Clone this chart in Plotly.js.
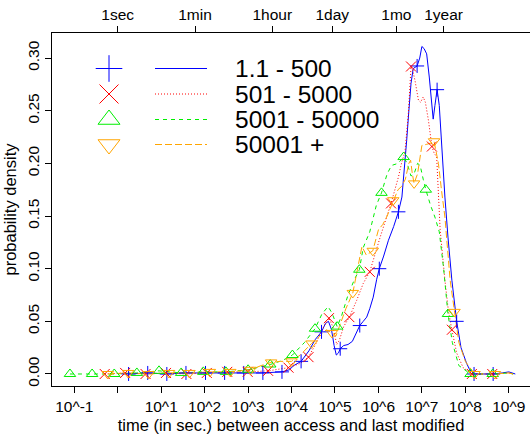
<!DOCTYPE html>
<html><head><meta charset="utf-8">
<script src="https://cdn.plot.ly/plotly-3.0.1.min.js"></script>
<style>html,body{margin:0;padding:0;background:#fff}</style>
</head><body>
<div id="chart" style="width:530px;height:440px"></div>
<script>
// ---- data (x given as log10 of seconds) ----
const seriesNames = ['1.1 - 500', '501 - 5000', '5001 - 50000', '50001 +'];

const blueLineLogX = [0.25,0.7,1.1,1.6,2.0,2.5,2.9,3.3,3.78,3.95,4.05,4.22,4.4,4.55,4.69,4.78,4.85,4.92,4.98,5.03,5.08,5.12,5.2,5.3,5.4,5.48,5.57,5.65,5.73,5.8,5.88,5.96,6.02,6.12,6.23,6.35,6.46,6.54,6.6,6.65,6.7,6.75,6.8,6.89,6.95,7.0,7.05,7.11,7.17,7.22,7.26,7.3,7.35,7.4,7.44,7.48,7.53,7.6,7.69,7.8,7.9,8.03,8.1,8.2,8.4,8.64,8.85,9.0,9.15];
const blueLineY    = [0,0.001,0,0.001,0.001,0.001,0.001,0.001,0.002,0.004,0.008,0.012,0.022,0.033,0.040,0.048,0.050,0.042,0.027,0.018,0.020,0.024,0.027,0.028,0.031,0.038,0.046,0.050,0.054,0.062,0.073,0.090,0.100,0.112,0.127,0.140,0.154,0.168,0.195,0.222,0.250,0.276,0.290,0.2925,0.300,0.311,0.309,0.304,0.282,0.255,0.242,0.255,0.270,0.255,0.225,0.195,0.168,0.130,0.089,0.050,0.025,0.010,0.004,0,0,0,0.001,0.002,0];
const blueMarkLogX = [0.25,0.69,1.13,1.57,2.02,2.46,2.90,3.34,3.78,4.22,4.69,5.12,5.57,6.02,6.46,6.89,7.35,7.80,8.20,8.64];
const blueMarkY    = [0,0.001,0,0.001,0.001,0.001,0.001,0.001,0.002,0.012,0.040,0.024,0.046,0.100,0.154,0.2925,0.270,0.050,0,0];

const redLineLogX = [-0.30,0.17,0.64,1.11,1.58,2.05,2.52,2.99,3.46,3.93,4.2,4.39,4.55,4.7,4.86,4.95,5.04,5.1,5.2,5.33,5.5,5.65,5.80,6.04,6.19,6.29,6.46,6.53,6.61,6.69,6.75,6.79,6.84,6.92,6.97,7.03,7.08,7.15,7.23,7.28,7.34,7.38,7.42,7.53,7.61,7.69,7.8,7.95,8.15,8.62,9.0,9.1];
const redLineY    = [0,0.001,0,0.001,0,0.001,0.002,0.002,0.003,0.006,0.010,0.016,0.028,0.042,0.053,0.045,0.028,0.032,0.045,0.054,0.070,0.086,0.097,0.130,0.149,0.162,0.187,0.200,0.211,0.248,0.292,0.288,0.279,0.260,0.258,0.263,0.258,0.241,0.216,0.210,0.206,0.170,0.137,0.089,0.060,0.042,0.020,0.006,0,0,0.001,0];
const redMarkLogX = [-0.30,0.17,0.64,1.11,1.58,2.05,2.52,2.99,3.46,3.93,4.39,4.86,5.33,5.80,6.29,6.75,7.23,7.69,8.15,8.62];
const redMarkY    = [0,0.001,0,0.001,0,0.001,0.002,0.002,0.003,0.006,0.016,0.053,0.054,0.097,0.162,0.292,0.216,0.042,0,0];

const greenLineLogX = [-1.10,-0.59,-0.08,0.44,0.95,1.46,1.97,2.49,3.00,3.51,3.8,4.02,4.3,4.54,4.7,4.84,4.93,5.05,5.15,5.3,5.45,5.56,5.65,5.8,5.95,6.07,6.2,6.3,6.45,6.58,6.66,6.75,6.82,6.9,6.96,7.03,7.09,7.2,7.3,7.4,7.5,7.60,7.7,7.85,8.12,8.63,9.0,9.1];
const greenLineY    = [0,0,0,0.001,0.003,0.001,0.002,0.002,0.004,0.009,0.013,0.018,0.030,0.043,0.057,0.064,0.058,0.045,0.055,0.075,0.090,0.099,0.120,0.135,0.160,0.172,0.190,0.198,0.200,0.206,0.200,0.188,0.190,0.200,0.198,0.185,0.175,0.160,0.149,0.135,0.100,0.057,0.030,0.008,0,0,0.001,0];
const greenMarkLogX = [-1.10,-0.59,-0.08,0.44,0.95,1.46,1.97,2.49,3.00,3.51,4.02,4.54,5.05,5.56,6.07,6.58,7.09,7.60,8.12,8.63];
const greenMarkY    = [0,0,0,0.001,0.003,0.001,0.002,0.002,0.004,0.009,0.018,0.043,0.045,0.099,0.172,0.206,0.175,0.057,0,0];

const orangeLineLogX = [-0.23,0.24,0.71,1.18,1.65,2.12,2.59,3.06,3.3,3.53,3.75,4.00,4.2,4.46,4.65,4.8,4.93,5.02,5.1,5.25,5.41,5.5,5.62,5.72,5.87,6.0,6.1,6.2,6.34,6.45,6.53,6.62,6.7,6.74,6.78,6.82,6.9,7.0,7.1,7.19,7.28,7.33,7.38,7.45,7.53,7.65,7.75,7.85,8.0,8.21,8.68,9.0,9.1];
const orangeLineY    = [0,0.001,0,0.001,0.001,0.002,0.002,0.004,0.008,0.011,0.012,0.012,0.018,0.029,0.036,0.042,0.039,0.036,0.045,0.062,0.077,0.095,0.121,0.113,0.117,0.137,0.142,0.150,0.165,0.175,0.178,0.185,0.200,0.203,0.190,0.181,0.190,0.217,0.218,0.219,0.221,0.210,0.200,0.175,0.149,0.089,0.059,0.030,0.012,0,0,0.001,0];
const orangeMarkLogX = [-0.23,0.24,0.71,1.18,1.65,2.12,2.59,3.06,3.53,4.00,4.46,4.93,5.41,5.87,6.34,6.82,7.28,7.75,8.21,8.68];
const orangeMarkY    = [0,0.001,0,0.001,0.001,0.002,0.002,0.004,0.011,0.012,0.029,0.039,0.077,0.117,0.165,0.181,0.221,0.059,0,0];

const bottomTickExp  = [-1,0,1,2,3,4,5,6,7,8,9];
const bottomTickText = ['10^-1','','10^1','10^2','10^3','10^4','10^5','10^6','10^7','10^8','10^9'];
const topTickSeconds = [1,60,3600,86400,2592000,31536000];
const topTickText    = ['1sec','1min','1hour','1day','1mo','1year'];
const yTickVals = [0,0.05,0.10,0.15,0.20,0.25,0.30];
const yTickText = ['0.00','0.05','0.10','0.15','0.20','0.25','0.30'];

// ---- styles ----
const FONT = '"Liberation Sans", Arial, Helvetica, sans-serif';
const styles = [
  {color:'#0000FF', dash:'solid',   symbol:'cross-thin-open'},
  {color:'#FF0000', dash:'1px,2px', symbol:'x-thin-open'},
  {color:'#00EE00', dash:'4px,4px', symbol:'triangle-up-open'},
  {color:'#FFA500', dash:'7px,3px', symbol:'triangle-down-open'}
];
const lines = [[blueLineLogX,blueLineY],[redLineLogX,redLineY],[greenLineLogX,greenLineY],[orangeLineLogX,orangeLineY]];
const marks = [[blueMarkLogX,blueMarkY],[redMarkLogX,redMarkY],[greenMarkLogX,greenMarkY],[orangeMarkLogX,orangeMarkY]];
const toSec = a => a.map(v => Math.pow(10, v));

const traces = [];
lines.forEach((l,i) => traces.push({
  type:'scatter', mode:'lines', x:toSec(l[0]), y:l[1], xaxis:'x', yaxis:'y',
  line:{color:styles[i].color, width:1, dash:styles[i].dash}, hoverinfo:'skip'
}));
marks.forEach((m,i) => traces.push({
  type:'scatter', mode:'markers', x:toSec(m[0]), y:m[1], xaxis:'x', yaxis:'y',
  marker:{symbol:styles[i].symbol, size:10, color:styles[i].color, line:{color:styles[i].color, width:1}}, hoverinfo:'skip'
}));
// invisible trace to activate top axis
traces.push({type:'scatter', mode:'markers', x:[topTickSeconds[0]], y:[0], xaxis:'x2', yaxis:'y', marker:{opacity:0}, hoverinfo:'skip'});

// ---- legend drawn in pixel coordinates on an overlay axis ----
const legRowsY = [68.5, 94, 119.5, 144.5];
const annotations = [];
styles.forEach((s,i) => {
  traces.push({type:'scatter', mode:'markers', x:[109], y:[legRowsY[i]], xaxis:'x3', yaxis:'y3',
    marker:{symbol:s.symbol, size:19, color:s.color, line:{color:s.color, width:1}}, hoverinfo:'skip'});
  traces.push({type:'scatter', mode:'lines', x:[155,207], y:[legRowsY[i],legRowsY[i]], xaxis:'x3', yaxis:'y3',
    line:{color:s.color, width:1, dash:s.dash}, hoverinfo:'skip'});
  annotations.push({xref:'x3', yref:'y3', x:233, y:legRowsY[i], text:seriesNames[i], showarrow:false,
    xanchor:'left', yanchor:'middle', font:{family:FONT, size:24.5, color:'black'}});
});

const axCommon = {showgrid:false, zeroline:false, showline:true, linecolor:'black', linewidth:1,
  ticks:'outside', ticklen:6, tickcolor:'black', tickwidth:1, tickfont:{family:FONT, size:15.5, color:'black'}};

const layout = {
  width:530, height:440, margin:{l:52, r:0, t:33, b:54},
  paper_bgcolor:'white', plot_bgcolor:'white', showlegend:false,
  font:{family:FONT, color:'black'},
  xaxis: Object.assign({}, axCommon, {type:'log', range:[-1.513, 9.488],
    tickmode:'array', tickvals:toSec(bottomTickExp), ticktext:bottomTickText,
    title:{text:'time (in sec.) between access and last modified', font:{family:FONT, size:16.5, color:'black'}, standoff:5}}),
  xaxis2: Object.assign({}, axCommon, {type:'log', range:[-1.513, 9.488], overlaying:'x', side:'top', anchor:'y',
    tickmode:'array', tickvals:topTickSeconds, ticktext:topTickText}),
  yaxis: Object.assign({}, axCommon, {range:[-0.0114, 0.3238], tickmode:'array', tickvals:yTickVals, ticktext:yTickText,
    tickangle:-90, title:{text:'probability density', font:{family:FONT, size:16.5, color:'black'}, standoff:4}}),
  xaxis3: {overlaying:'x', range:[52,530], visible:false, fixedrange:true},
  yaxis3: {overlaying:'y', range:[386,33], visible:false, fixedrange:true},
  annotations: annotations
};

Plotly.newPlot('chart', traces, layout, {staticPlot:true, displayModeBar:false});
</script>
</body></html>
